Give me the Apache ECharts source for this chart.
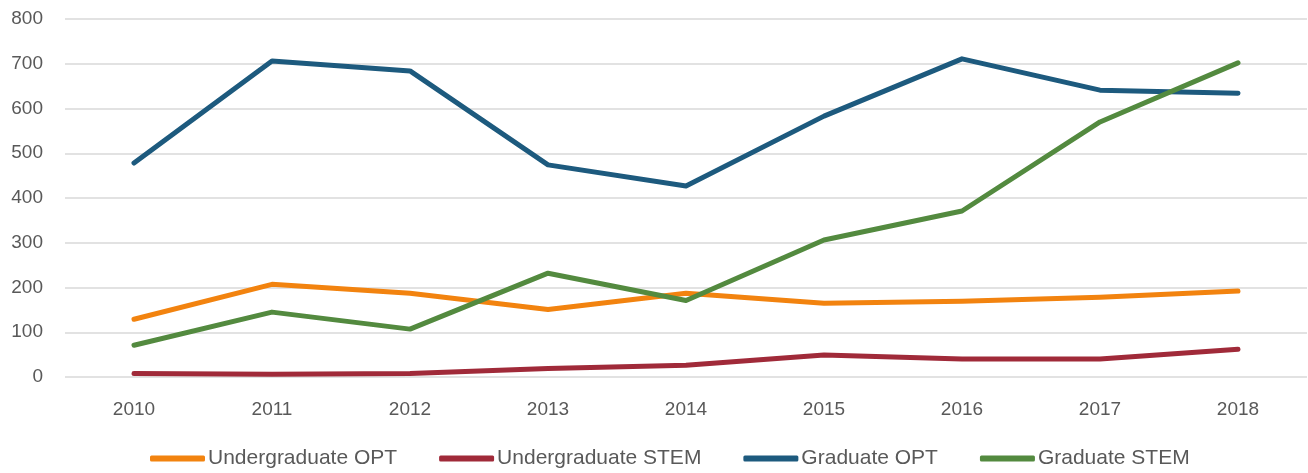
<!DOCTYPE html>
<html>
<head>
<meta charset="utf-8">
<script src="https://cdn.jsdelivr.net/npm/echarts@6/dist/echarts.min.js"></script>
<style>
  html, body { margin: 0; padding: 0; background: #fff; }
  #chart { width: 1308px; height: 473px; }
</style>
</head>
<body>
<div id="chart"></div>
<script>
// Years on the horizontal axis
const years = ['2010', '2011', '2012', '2013', '2014', '2015', '2016', '2017', '2018'];

// Series values per year
const undergradOPT  = [129, 207, 187, 151, 187, 165, 169, 178, 192];
const undergradSTEM = [8, 6, 8, 19, 26, 49, 40, 40, 62];
const gradOPT       = [478, 706, 684, 474, 427, 583, 711, 641, 634];
const gradSTEM      = [71, 145, 107, 232, 171, 306, 371, 570, 702];

const seriesNames = ['Undergraduate OPT', 'Undergraduate STEM', 'Graduate OPT', 'Graduate STEM'];
const seriesColors = ['#F2830F', '#A02A39', '#1D5A7E', '#538A3F'];
const seriesValues = [undergradOPT, undergradSTEM, gradOPT, gradSTEM];

const font = '"Liberation Sans", Arial, sans-serif';
const textColor = '#595959';

const chart = echarts.init(document.getElementById('chart'), null, { renderer: 'canvas' });

chart.setOption({
  animation: false,
  backgroundColor: '#ffffff',
  grid: { left: 65, right: 1, top: 19, bottom: 96, containLabel: false },
  legend: {
    top: 443,
    left: 145,
    itemWidth: 55,
    itemHeight: 6,
    itemGap: 42,
    icon: 'roundRect',
    textStyle: { fontFamily: font, fontSize: 21, color: textColor, padding: [0, 0, 0, -2] },
    data: seriesNames
  },
  xAxis: {
    type: 'category',
    data: years,
    boundaryGap: true,
    axisLine: { show: false },
    axisTick: { show: false },
    axisLabel: { fontFamily: font, fontSize: 19, color: textColor, margin: 23 }
  },
  yAxis: {
    type: 'value',
    min: 0,
    max: 800,
    interval: 100,
    axisLine: { show: false },
    axisTick: { show: false },
    axisLabel: { fontFamily: font, fontSize: 19, color: textColor, margin: 22 },
    splitLine: { lineStyle: { color: '#d9d9d9', width: 1.5 } }
  },
  series: seriesNames.map((name, i) => ({
    name: name,
    type: 'line',
    data: seriesValues[i],
    symbol: 'none',
    color: seriesColors[i],
    lineStyle: { width: 5, color: seriesColors[i], cap: 'round', join: 'round' }
  }))
});
</script>
</body>
</html>
